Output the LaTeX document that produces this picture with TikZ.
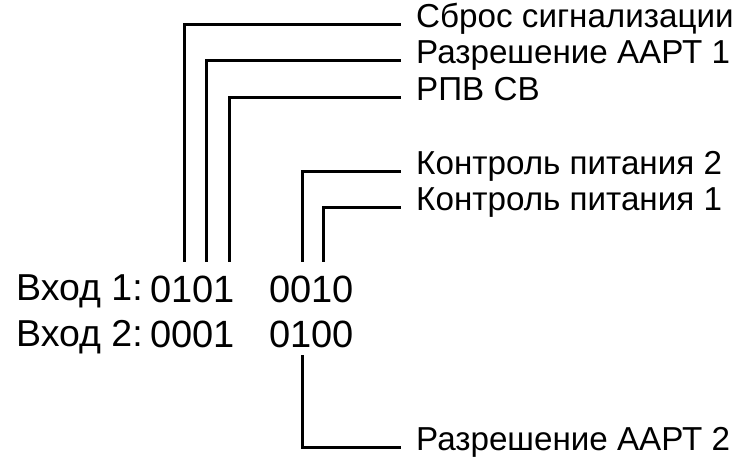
\documentclass[tikz,border=0pt]{standalone}
\usepackage{fontspec}
\setmainfont{Liberation Sans}
\begin{document}
\begin{tikzpicture}[x=1pt,y=-1pt,
  lead/.style={line width=3pt},
  tag/.style={anchor=west, inner xsep=15pt, inner ysep=0pt,
    text height=0.80em, text depth=0.20em,
    font=\fontsize{33.2}{38}\selectfont},
  word/.style={anchor=base west, inner sep=0pt,
    font=\fontsize{37.5}{42}\selectfont},
  bits/.style={anchor=base west, inner sep=0pt,
    font=\fontsize{38}{42}\selectfont}]
\useasboundingbox (0,0) rectangle (739,462);

% input words
\node[word] (in1)  at (16,301)  {Вход 1:};
\node[word] (in2)  at (16,346)  {Вход 2:};
\node[bits] (w1a)  at (150,303) {0101};
\node[bits] (w1b)  at (269,303) {0010};
\node[bits] (w2a)  at (150,348) {0001};
\node[bits] (w2b)  at (269,348) {0100};

% signal names
\node[tag] (s1) at (401,25)  {Сброс сигнализации};
\node[tag] (s2) at (401,61)  {Разрешение ААРТ 1};
\node[tag] (s3) at (401,98)  {РПВ СВ};
\node[tag] (s4) at (401,172) {Контроль питания 2};
\node[tag] (s5) at (401,208) {Контроль питания 1};
\node[tag] (s6) at (401,447) {Разрешение ААРТ 2};

% bit positions
\coordinate (b1) at (184,262);
\coordinate (b2) at (206,262);
\coordinate (b3) at (229,262);
\coordinate (b4) at (302,262);
\coordinate (b5) at (323,262);
\coordinate (b6) at (302,355);

% leaders from bits to names
\draw[lead] (b1) |- (s1.west);
\draw[lead] (b2) |- (s2.west);
\draw[lead] (b3) |- (s3.west);
\draw[lead] (b4) |- (s4.west);
\draw[lead] (b5) |- (s5.west);
\draw[lead] (b6) |- (s6.west);
\end{tikzpicture}
\end{document}
